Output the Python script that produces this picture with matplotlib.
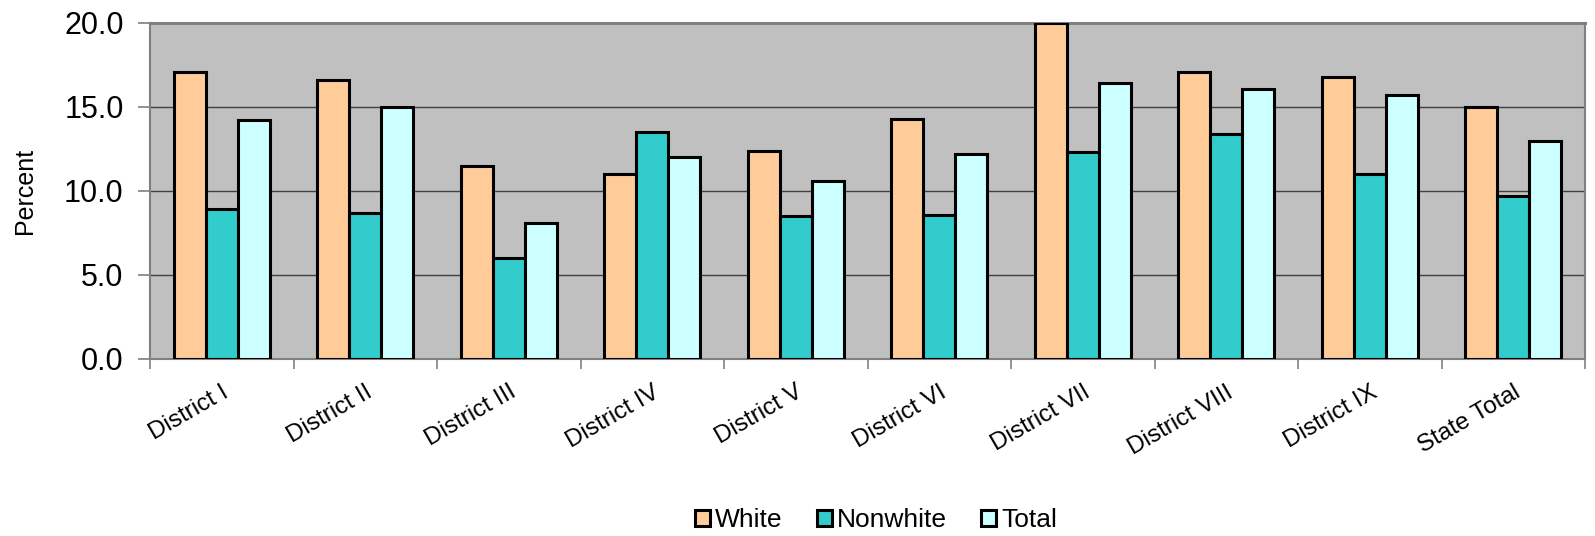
import matplotlib
matplotlib.use("Agg")
import matplotlib.pyplot as plt
import numpy as np

categories = ["District I", "District II", "District III", "District IV", "District V",
              "District VI", "District VII", "District VIII", "District IX", "State Total"]
white = [17.1, 16.6, 11.5, 11.0, 12.4, 14.3, 20.0, 17.1, 16.8, 15.0]
nonwhite = [8.9, 8.7, 6.0, 13.5, 8.5, 8.6, 12.3, 13.4, 11.0, 9.7]
total = [14.2, 15.0, 8.1, 12.0, 10.6, 12.2, 16.4, 16.1, 15.7, 13.0]
series_names = ["White", "Nonwhite", "Total"]
yticks = [0.0, 5.0, 10.0, 15.0, 20.0]

colors = ["#FFCC99", "#33CCCC", "#CCFFFF"]

plt.rcParams['font.family'] = ['Liberation Sans', 'DejaVu Sans']

fig = plt.figure(figsize=(15.95, 5.36), dpi=100)
ax = fig.add_axes([150/1595, 1-359/536, (1585-150)/1595, (359-23)/536])
ax.set_facecolor("#C0C0C0")

x = np.arange(len(categories)) + 0.5
w = 0.222
handles = []
for k, (vals, c, name) in enumerate(zip([white, nonwhite, total], colors, series_names)):
    b = ax.bar(x + (k - 1) * w, vals, width=w, color=c, edgecolor="black",
               linewidth=2.2, label=name, zorder=3)
    handles.append(b)

ax.set_xlim(0, len(categories))
ax.set_ylim(0, 20)
ax.set_yticks(yticks)
ax.set_yticklabels([f"{v:.1f}" for v in yticks], fontsize=22)
ax.yaxis.grid(True, color="#404040", linewidth=1.0, zorder=1)
ax.set_axisbelow(True)

ax.set_xticks(x)
ax.set_xticklabels(categories, fontsize=17.5, rotation=30, ha="right", va="top",
                   rotation_mode="anchor")
ax.set_xticks(np.arange(len(categories) + 1), minor=True)
ax.tick_params(axis="x", which="major", length=0, pad=16)
ax.tick_params(axis="x", which="minor", length=7, color="#808080", width=1.2)
ax.tick_params(axis="y", length=9, color="#808080", width=1.2, pad=10)

for s in ax.spines.values():
    s.set_color("#808080")
    s.set_linewidth(1.5)
ax.spines["top"].set_linewidth(2.2)

ax.set_ylabel("Percent", fontsize=18)
ax.yaxis.set_label_coords(-(150-37)/1435, 0.5)

fig.legend(handles=handles, labels=series_names, loc="center",
           bbox_to_anchor=(876/1595, 1-520/536), ncol=3, frameon=False,
           fontsize=19, handlelength=0.56, handleheight=0.56,
           handletextpad=0.2, columnspacing=1.3, borderpad=0)

fig.savefig("out.png", dpi=100)
